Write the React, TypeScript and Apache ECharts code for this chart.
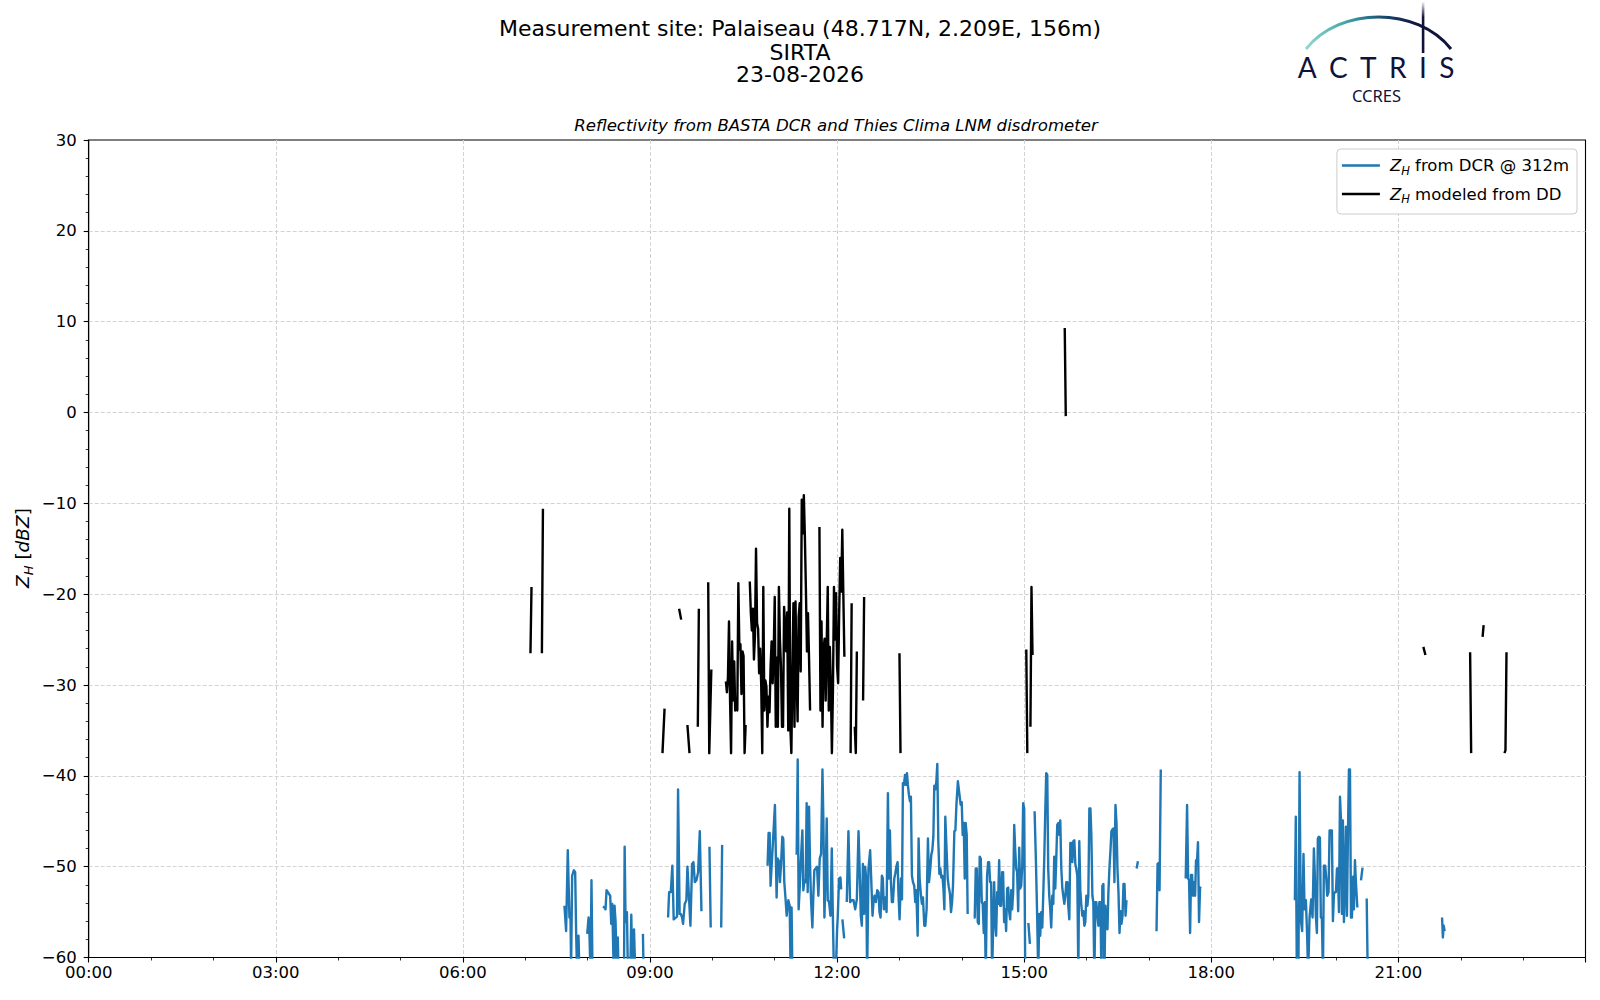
import React, { useEffect, useRef } from 'react';
import * as echarts from 'echarts';

// Time axis in minutes of the day, reflectivity in dBZ
const xTickMinutes = [0, 180, 360, 540, 720, 900, 1080, 1260];
const yTicks = [-60, -50, -40, -30, -20, -10, 0, 10, 20, 30];

// Z_H from DCR @ 312m (blue), segments separated by data gaps
const dcrSegments: number[][][] = [
  [[457.7,-54.3],[459.3,-57.1],[460.9,-48.2],[462.5,-55.6],[463.5,-55.4],[464.1,-61],[465.1,-51.0],[466.7,-50.4],[468,-50.6],[469,-57.6],[469.9,-62],[471.2,-57.6],[472.2,-62]],
  [[479.6,-57.4],[480.9,-55.6],[481.8,-57.6],[482.8,-62],[483.7,-51.5],[484.7,-62]],
  [[494.7,-54.4],[496.3,-54.5],[497.2,-54.7],[498.2,-52.6],[499.5,-52.8],[500.5,-53.0],[501.7,-53.2],[502.7,-56.3],[503.7,-54.1],[505,-61],[505.9,-54.3],[506.9,-56.1],[507.9,-62],[509,-57.8],[510,-63]],
  [[515,-62],[515.6,-47.8],[516.5,-56.1],[517.8,-55.0],[518.8,-62]],
  [[521,-62],[522,-55.3],[523,-62],[524.6,-56.9],[525.9,-62]],
  [[533.2,-57.4],[533.9,-62]],
  [[557.4,-55.6],[558.4,-52.8],[560,-52.8],[561.5,-49.9],[562.8,-55.8],[566,-55.5],[567,-41.5],[568.5,-55.2],[569.6,-55.2],[570.9,-55.6],[571.8,-56.3],[573.4,-54.1],[575,-53.7],[576,-50.0],[578.9,-56.5],[580.5,-49.7],[581.8,-49.5],[583.1,-51.7],[584.7,-51.5],[586.3,-50.6],[587.9,-46.1],[589.5,-54.9]],
  [[597.2,-47.8],[598.4,-56.7]],
  [[608.5,-56.7],[609.4,-47.6]],
  [[653.1,-49.9],[654.1,-46.3],[655.1,-46.3],[656,-52.1],[660.2,-43.2],[661.8,-53.4],[662.8,-49.1],[664.1,-49.4],[665,-51.7],[666,-49.9],[667.3,-46.7],[668.2,-46.9],[669.2,-51.7],[670.2,-53.2],[671.5,-55.4],[673.1,-53.7],[674.4,-54.3],[675.3,-62],[676.2,-54.5],[677,-62]],
  [[681.1,-48.7],[682.1,-38.2],[683,-54.7],[684.3,-51.7],[685.3,-48.9],[686.6,-46.0],[687.5,-52.6],[688.5,-51.5],[689.8,-51.7],[690.7,-43.0],[691.7,-52.8],[693,-43.4],[694,-49.9],[694.9,-53.6],[696.2,-56.7],[697.2,-53.0],[698.1,-50.4],[699.4,-50.2],[700.7,-50.0],[702,-53.2],[703.3,-49.1],[704.6,-48.6],[705.9,-39.3],[706.8,-45.0],[707.8,-55.6],[709.1,-50.2],[710,-44.7],[711,-53.7],[712.3,-53.9],[713.6,-55.4],[714.9,-48.0],[715.8,-54.7],[717,-62],[718.7,-62],[720,-56.9],[720.6,-55.6],[721.9,-51.3],[723.2,-51.2],[723.9,-52.5]],
  [[725.1,-55.8],[726.8,-57.9]],
  [[729.3,-53.9],[730.9,-46.1],[732.5,-53.9],[734.1,-53.7],[735.8,-53.7],[737.4,-54.7],[739,-53.6],[740.6,-46.1],[741.5,-49.5],[742.8,-55.4],[743.8,-56.5],[744.8,-49.7],[746,-55.2],[747,-50.0],[748,-51.3],[748.9,-62],[750.2,-50.2],[751.8,-48.2],[752.8,-51.3],[754.1,-55.4],[755,-53.9],[756,-53.2],[757.3,-53.9],[758.6,-52.6],[759.9,-52.8],[760.8,-55.0],[761.8,-55.6],[763.1,-51.0],[764,-51.3],[765,-54.7],[766.3,-53.4],[767.6,-55.0],[768.9,-41.9],[769.8,-51.3],[770.8,-46.0],[771.8,-51.7],[772.7,-53.9],[773.7,-53.9],[775,-51.3],[775.9,-50.8],[777.2,-49.9],[778.2,-49.5],[779.1,-53.2],[780.1,-55.8],[781.4,-51.3],[782.4,-53.6],[783.3,-40.8],[784.3,-41.0],[785.3,-39.9],[786.2,-41.0],[787.2,-39.7],[788.1,-41.0],[789.1,-42.1],[790.1,-42.8],[791,-42.3],[792,-51.0],[793,-51.7],[794.2,-52.1],[795.2,-53.9],[796.2,-52.6],[797.5,-57.6],[798.4,-46.9],[799.4,-51.3],[800.7,-53.2],[801.6,-54.1],[802.6,-53.4],[803.9,-56.5],[804.9,-56.5],[806.1,-54.7],[807.4,-46.9],[808.4,-51.7],[809.7,-50.2],[810.6,-48.7],[811.6,-48.2],[812.6,-46.7],[813.5,-41.1],[814.5,-41.5],[815.5,-40.6],[816.4,-38.7],[817.4,-47.3],[818.4,-50.8],[819.3,-50.2],[820.3,-51.2],[821.3,-51.0],[822.3,-52.4],[823.2,-54.7],[824.1,-44.5],[825.4,-48.4],[826.4,-51.3],[827.4,-52.2],[828.6,-53.0],[829.6,-55.0],[830.6,-53.9],[831.5,-52.1],[832.8,-46.1],[833.8,-46.0],[834.8,-43.2],[836.2,-40.6],[838.9,-43.2],[839.9,-42.9],[840.8,-46.5],[841.8,-45.2],[842.8,-51.3],[843.7,-45.2],[844.7,-46.5],[845.6,-55.2]],
  [[851.5,-55.6],[852.4,-55.6],[853.4,-50.2],[854.4,-50.2],[855.3,-56.1],[856.3,-56.3],[857.2,-48.9],[858.2,-49.1],[859.2,-53.9],[860.1,-54.1],[861.1,-57.3],[862.1,-53.9],[863,-62],[864.3,-51.0],[865.3,-49.5],[866.2,-49.5],[867.2,-51.7],[868.2,-51.7],[869.1,-62],[870.1,-56.7],[871.1,-51.7],[872,-56.1],[873,-57.6],[874,-52.8],[874.9,-54.1],[875.9,-49.3],[876.9,-54.3],[877.8,-54.3],[878.8,-50.6],[879.7,-50.6],[880.7,-56.1],[881.7,-54.7],[882.6,-57.1],[883.6,-52.4],[884.6,-52.3],[885.5,-54.9],[886.5,-55.8],[887.5,-52.6],[888.4,-54.7],[889.4,-52.8],[890.4,-45.4],[891.3,-48.0],[892.3,-50.2],[893.2,-50.6],[894.2,-54.9],[895.2,-47.9],[896.1,-52.4],[897.1,-52.1],[898.1,-50.0],[899,-43.0],[900,-43.6],[901,-62]],
  [[904,-56.2],[905.5,-58.5]],
  [[910,-43.9],[911.3,-49.5],[912.5,-55.6],[913.5,-62],[914.5,-55.2],[915.4,-57.6],[916.4,-55.0],[917.4,-56.7],[918.3,-53.2],[919.3,-49.1],[920.2,-44.3],[921.2,-39.7],[922.2,-39.9],[923.1,-50.2],[924.1,-53.2],[925.1,-54.7],[926,-56.7],[927,-53.2],[928,-54.1],[928.9,-48.9],[929.9,-52.4],[930.9,-48.9],[931.8,-45.4],[932.8,-45.2],[933.8,-46.5],[934.7,-44.9],[935.7,-50.2],[936.7,-52.4],[937.6,-53.2],[938.6,-54.1],[939.6,-53.2],[940.5,-51.7],[941.5,-51.7],[942.4,-54.3],[943.4,-55.8],[944.4,-47.4],[945.3,-47.4],[946.3,-49.5],[947.3,-47.2],[948.2,-47.1],[949.2,-49.7],[950.1,-50.2],[951.1,-51.0],[952.1,-62],[953,-47.2],[954,-52.6],[955,-54.3],[955.9,-55.4],[956.9,-54.9],[957.9,-56.5],[958.8,-56.1],[959.8,-53.2],[960.8,-54.3],[961.7,-53.2],[962.7,-43.6],[963.7,-43.6],[964.6,-46.5],[965.6,-53.2],[966.5,-53.9],[967.5,-62],[968.5,-53.9],[969.4,-53.9],[970.4,-55.4],[971.4,-56.5],[972.3,-53.9],[973.3,-53.9],[974.3,-62],[975.2,-52.1],[976.2,-51.9],[977.2,-62],[978.1,-54.3],[979.1,-56.1],[980.1,-56.9],[981,-52.8],[982,-50.2],[983,-48.2],[983.9,-46.1],[984.9,-45.9],[985.9,-45.8],[986.8,-51.7],[987.8,-43.2],[988.8,-45.2],[989.7,-50.2],[990.7,-52.8],[991.7,-57.3],[992.6,-54.9],[993.6,-56.3],[994.6,-55.4],[995.5,-51.9],[996.5,-51.9],[997.5,-55.4],[998.4,-53.7]],
  [[1008.2,-50.2],[1009.4,-49.4]],
  [[1027.3,-57.1],[1028.3,-49.7],[1029.2,-49.6],[1030.2,-52.6],[1031.4,-39.3]],
  [[1055.4,-51.3],[1056.7,-43.2],[1057.7,-51.3],[1058.6,-51.5],[1059.6,-57.3],[1060.5,-50.9],[1061.5,-50.9],[1062.4,-53.2],[1063.4,-51.7],[1064.4,-53.2],[1065.3,-49.3],[1066.3,-49.3],[1067.2,-47.3],[1068.2,-56.1],[1069.2,-52.3],[1070.1,-52.4]],
  [[1160.4,-53.7],[1161.3,-44.5],[1162.3,-62],[1163.8,-62],[1164.9,-39.6],[1166.1,-55.8],[1167.4,-57.1],[1168.7,-48.6],[1169.7,-54.7],[1171,-53.7],[1172.2,-57.6],[1173.2,-62],[1174.5,-55.6],[1176.1,-53.6],[1177.4,-55.6],[1178.7,-48.0],[1179.6,-51.0],[1180.6,-55.4],[1181.6,-57.3],[1182.5,-46.9],[1183.5,-46.7],[1184.5,-46.8],[1185.4,-55.6],[1186.4,-55.6],[1187.4,-62],[1188.3,-49.9],[1189.6,-49.9],[1190.6,-51.3],[1191.5,-53.2],[1192.8,-52.8],[1193.8,-46.0],[1194.7,-46.0],[1196,-46.0],[1197,-56.0],[1198,-53.0],[1198.9,-52.8],[1199.9,-52.8],[1200.9,-50.2],[1201.8,-50.2],[1202.8,-55.0],[1203.8,-42.3],[1204.7,-44.7],[1205.7,-55.2],[1206.6,-44.9],[1207.6,-56.1],[1208.6,-51.9],[1209.5,-45.6],[1210.5,-55.4],[1211.5,-46.1],[1212.4,-39.3],[1213.4,-39.3],[1214.4,-55.6],[1215.3,-55.6],[1216.3,-51.1],[1217.2,-54.7],[1218.2,-49.3],[1219.2,-51.9],[1220.5,-54.5]],
  [[1224,-51.5],[1225.5,-50.1]],
  [[1229.5,-53.5],[1230.5,-62]],
  [[1302,-55.6],[1302.8,-57.8],[1303.6,-56.5],[1304.5,-57.1]],
];

// Z_H modeled from disdrometer DD (black)
const ddSegments: number[][][] = [
  [[425,-26.5],[426,-19.2]],
  [[436,-26.5],[437,-10.6]],
  [[552,-37.5],[554,-32.6]],
  [[568,-21.6],[570,-22.8]],
  [[576,-34.4],[578,-37.5]],
  [[586,-34.6],[587,-21.6]],
  [[596,-18.7],[597,-37.5],[599,-28.3]],
  [[613,-29.6],[614,-30.8],[615,-29.1],[616,-23.0],[617,-31.5],[618,-37.5],[619,-25.2],[620,-31.7],[621,-27.4],[622,-32.8],[623,-31.5],[624,-32.8],[625,-18.8],[626,-26.1],[627,-25.5],[628,-31.0],[629,-26.3],[630,-26.8],[631,-37.5],[632,-34.4]],
  [[636,-18.6],[637,-22.0],[638,-24.0],[639,-21.6],[640,-27.2],[641,-24.5],[642,-15.0],[643,-23.2],[644,-23.8],[645,-28.7],[646,-26.0],[647,-30.0],[648,-37.5],[649,-19.2],[650,-32.8],[651,-29.5],[652,-30.2],[653,-34.6],[654,-31.3],[655,-33.0],[656,-28.0],[657,-25.2],[658,-29.8],[659,-26.5],[660,-20.3],[661,-34.6],[662,-27.0],[663,-34.6],[664,-19.2],[665,-25.0],[666,-28.0],[667,-34.6],[668,-34.6],[669,-21.4],[670,-23.5],[671,-26.3],[672,-22.0],[673,-35.0],[674,-10.6],[675,-34.6],[676,-37.5],[677,-28.3],[678,-21.0],[679,-34.6],[680,-20.8],[681,-29.0],[682,-34.0],[683,-22.5],[684,-21.0],[685,-28.5],[686,-9.6],[687,-13.3],[688,-9.1],[689,-13.7],[690,-19.5],[691,-26.3],[692,-22.1],[693,-27.0],[694,-32.8]],
  [[703,-12.6],[704,-32.8],[705,-23.0],[706,-34.6],[707,-26.0],[708,-24.9],[709,-31.7],[710,-25.5],[711,-19.2],[712,-32.8],[713,-25.8],[714,-30.0],[715,-37.5],[716,-30.5],[717,-19.2],[718,-25.0],[719,-19.9],[720,-28.0],[721,-29.8],[722,-22.0],[723,-16.0],[724,-19.7],[725,-12.9],[726,-20.0],[727,-26.9]],
  [[733,-37.5],[734,-21.0]],
  [[737,-34.6],[738,-37.5],[739,-26.3]],
  [[745,-31.7],[746,-20.3]],
  [[780,-26.5],[781,-37.5]],
  [[902,-26.1],[903,-37.5]],
  [[906,-34.6],[907,-19.2],[908,-26.7]],
  [[939,9.3],[940,-0.4]],
  [[1284,-25.8],[1286,-26.7]],
  [[1329,-26.4],[1330,-37.5]],
  [[1341,-24.7],[1342,-23.4]],
  [[1362,-37.5],[1363,-37.2],[1364,-26.4]],
];

const FONT = "'DejaVu Sans', sans-serif";
const NAVY = '#10123a';
const BLUE = '#1f77b4';

function toLineData(segs: number[][][]) {
  const out: any[] = [];
  segs.forEach((s, i) => {
    if (i > 0) out.push([s[0][0], '-']);
    s.forEach((p) => out.push([p[0], p[1]]));
  });
  return out;
}

function fmtHour(v: number) {
  const h = Math.round(v / 60);
  return (h < 10 ? '0' : '') + h + ':00';
}

function fmtY(v: number) {
  return v < 0 ? '\u2212' + Math.abs(v) : String(v);
}

const subRich = {
  z: { fontFamily: FONT, fontSize: 16.5, fontStyle: 'italic', color: '#000', padding: [0, 0, 0, 5] },
  h: { fontFamily: FONT, fontSize: 11.5, fontStyle: 'italic', color: '#000', padding: [10, 0, 0, 0] },
  t: { fontFamily: FONT, fontSize: 16.5, color: '#000' },
};

export default function App() {
  const ref = useRef<HTMLDivElement>(null);
  useEffect(() => {
    document.body.style.margin = '0';
    const chart = echarts.init(ref.current!, null, { renderer: 'svg' });
    const option: any = {
      animation: false,
      backgroundColor: '#ffffff',
      grid: {
        left: 88.7,
        right: 14.5,
        top: 140,
        bottom: 42.5,
        show: true,
        borderColor: '#000',
        borderWidth: 1.1,
        containLabel: false,
      },
      xAxis: {
        type: 'value',
        min: 0,
        max: 1440,
        interval: 180,
        axisLine: { show: true, onZero: false, lineStyle: { color: '#000', width: 1.1 } },
        axisTick: { show: true, length: 5, lineStyle: { color: '#000', width: 1.1 } },
        minorTick: { show: true, splitNumber: 3, length: 3, lineStyle: { color: '#000', width: 0.8 } },
        axisLabel: {
          formatter: fmtHour,
          fontFamily: FONT,
          fontSize: 16.5,
          color: '#000',
          margin: 6,
          showMaxLabel: false,
        },
        splitLine: { show: true, showMinLine: false, showMaxLine: false, lineStyle: { color: '#d3d3d3', type: [4, 2], width: 1 } },
      },
      yAxis: {
        type: 'value',
        min: -60,
        max: 30,
        interval: 10,
        axisLine: { show: true, onZero: false, lineStyle: { color: '#000', width: 1.1 } },
        axisTick: { show: true, length: 5, lineStyle: { color: '#000', width: 1.1 } },
        minorTick: { show: true, splitNumber: 5, length: 3, lineStyle: { color: '#000', width: 0.8 } },
        axisLabel: { formatter: fmtY, fontFamily: FONT, fontSize: 16.5, color: '#000', margin: 12 },
        splitLine: { show: true, showMinLine: false, showMaxLine: false, lineStyle: { color: '#d3d3d3', type: [4, 2], width: 1 } },
      },
      legend: {
        orient: 'vertical',
        right: 23,
        top: 149,
        icon: 'rect',
        itemWidth: 38,
        itemHeight: 2.4,
        itemGap: 9,
        padding: [8, 8, 9, 5],
        backgroundColor: 'rgba(255,255,255,0.85)',
        borderColor: '#cccccc',
        borderWidth: 1,
        borderRadius: 4,
        data: [
          { name: 'ZH from DCR @ 312m', itemStyle: { color: BLUE } },
          { name: 'ZH modeled from DD', itemStyle: { color: '#000' } },
        ],
        formatter: (name: string) =>
          name === 'ZH from DCR @ 312m'
            ? '{z|Z}{h|H}{t| from DCR @ 312m}'
            : '{z|Z}{h|H}{t| modeled from DD}',
        textStyle: { fontFamily: FONT, fontSize: 16.5, color: '#000', rich: subRich },
      },
      graphic: [
        {
          type: 'text',
          x: 800,
          y: 28.6,
          style: {
            text: 'Measurement site: Palaiseau (48.717N, 2.209E, 156m)',
            fontFamily: FONT, fontSize: 22, fill: '#000', align: 'center', verticalAlign: 'middle',
          },
        },
        {
          type: 'text', x: 800, y: 52,
          style: { text: 'SIRTA', fontFamily: FONT, fontSize: 22, fill: '#000', align: 'center', verticalAlign: 'middle' },
        },
        {
          type: 'text', x: 800, y: 74.8,
          style: { text: '23-08-2026', fontFamily: FONT, fontSize: 22, fill: '#000', align: 'center', verticalAlign: 'middle' },
        },
        {
          type: 'text', x: 836, y: 125.5,
          style: {
            text: 'Reflectivity from BASTA DCR and Thies Clima LNM disdrometer',
            fontFamily: FONT, fontSize: 16.6, fontStyle: 'italic', fill: '#000', align: 'center', verticalAlign: 'middle',
          },
        },
        {
          type: 'text', x: 22.5, y: 548, rotation: Math.PI / 2,
          style: {
            text: '{z|Z}{h|H}{t| [}{d|dBZ}{t|]}',
            align: 'center', verticalAlign: 'middle',
            rich: {
              z: { fontFamily: FONT, fontSize: 18.5, fontStyle: 'italic', fill: '#000' },
              h: { fontFamily: FONT, fontSize: 13, fontStyle: 'italic', fill: '#000', padding: [11, 0, 0, 0] },
              t: { fontFamily: FONT, fontSize: 18.5, fill: '#000' },
              d: { fontFamily: FONT, fontSize: 18.5, fontStyle: 'italic', fill: '#000' },
            },
          },
        },
        // ACTRIS logo
        {
          type: 'bezierCurve',
          shape: { x1: 1306, y1: 49, cpx1: 1340, cpy1: 6.3, cpx2: 1417, cpy2: 6.3, x2: 1451, y2: 49 },
          style: {
            fill: 'none',
            lineWidth: 3,
            stroke: new echarts.graphic.LinearGradient(0, 0, 1, 0, [
              { offset: 0, color: '#93d8cf' },
              { offset: 0.3, color: '#3aa0a4' },
              { offset: 0.55, color: '#18466b' },
              { offset: 0.75, color: '#10163f' },
              { offset: 1, color: NAVY },
            ]),
          },
        },
        {
          type: 'rect',
          shape: { x: 1421.8, y: 2, width: 2.6, height: 51 },
          style: {
            fill: new echarts.graphic.LinearGradient(0, 0, 0, 1, [
              { offset: 0, color: 'rgba(16,18,58,0.05)' },
              { offset: 0.3, color: NAVY },
              { offset: 1, color: NAVY },
            ]),
          },
        },
        {
          type: 'text', x: 1376, y: 66.5,
          style: {
            text: '{a|A}{a|C}{a|T}{a|R}{a|I}{a|S}',
            align: 'center', verticalAlign: 'middle',
            rich: { a: { fontFamily: 'Lato, sans-serif', fontSize: 28, lineHeight: 22, fill: NAVY, padding: [0, 6.2, 0, 6.2] } },
          },
        },
        {
          type: 'text', x: 1376.5, y: 95,
          style: { text: 'CCRES', fontFamily: "'Noto Sans', sans-serif", fontSize: 16.5, lineHeight: 15, fill: NAVY, align: 'center', verticalAlign: 'middle' },
        },
      ],
      series: [
        {
          name: 'ZH from DCR @ 312m',
          type: 'line',
          data: toLineData(dcrSegments),
          symbol: 'none',
          showSymbol: false,
          connectNulls: false,
          clip: true,
          lineStyle: { color: BLUE, width: 2.4, join: 'round' },
          itemStyle: { color: BLUE },
          z: 2,
        },
        {
          name: 'ZH modeled from DD',
          type: 'line',
          data: toLineData(ddSegments),
          symbol: 'none',
          showSymbol: false,
          connectNulls: false,
          clip: true,
          lineStyle: { color: '#000000', width: 2.4, join: 'round' },
          itemStyle: { color: '#000000' },
          z: 3,
        },
      ],
    };
    chart.setOption(option);
    return () => chart.dispose();
  }, []);
  return <div ref={ref} style={{ width: 1600, height: 1000 }} />;
}
